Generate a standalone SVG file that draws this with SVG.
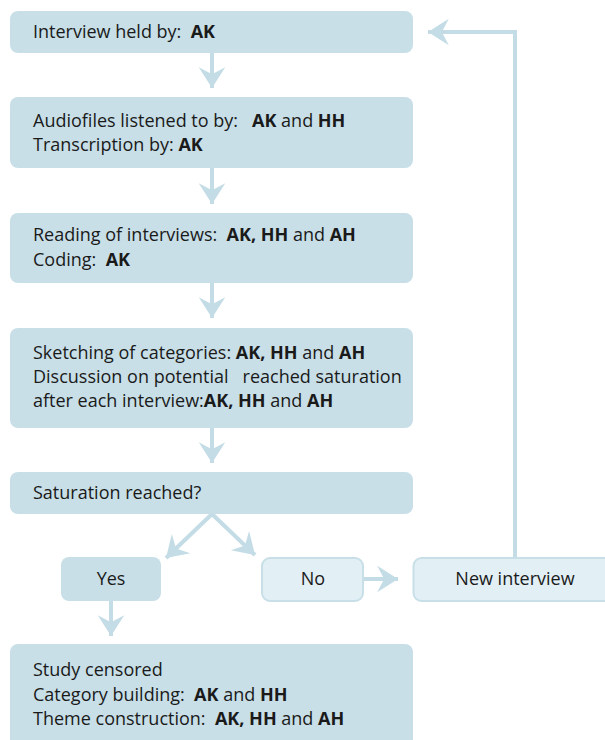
<svg xmlns="http://www.w3.org/2000/svg" width="605" height="740" viewBox="0 0 605 740">
<style>
.box{fill:#c8dfe8}
.lbox{fill:#e2eff5;stroke:#c8dfe8;stroke-width:2}
.t{font-family:"Open Sans","Noto Sans","Liberation Sans",sans-serif;font-size:18px;fill:#1a1a1a;white-space:pre}
.b{font-weight:bold}
.c{stroke:#c3dce6;stroke-width:4;fill:none}
</style>
<defs>
<marker id="ah" markerUnits="userSpaceOnUse" markerWidth="30" markerHeight="30" viewBox="-20 -13 22 26" refX="0" refY="0" orient="auto">
<path d="M0,0 L-18,-11.5 L-12,0 L-18,11.5 Z" fill="#c3dce6"/>
</marker>
</defs>
<rect width="605" height="740" fill="#ffffff"/>
<g id="connectors">
<line class="c" x1="212" y1="53" x2="212" y2="88" marker-end="url(#ah)"/>
<line class="c" x1="212" y1="168" x2="212" y2="204" marker-end="url(#ah)"/>
<line class="c" x1="212" y1="283" x2="212" y2="318" marker-end="url(#ah)"/>
<line class="c" x1="212" y1="428" x2="212" y2="463" marker-end="url(#ah)"/>
<line class="c" x1="212" y1="514" x2="166" y2="558" marker-end="url(#ah)"/>
<line class="c" x1="212" y1="514" x2="255" y2="555" marker-end="url(#ah)"/>
<line class="c" x1="363" y1="579" x2="398" y2="579" marker-end="url(#ah)"/>
<line class="c" x1="111" y1="601" x2="111" y2="636" marker-end="url(#ah)"/>
<polyline class="c" points="515,557 515,32 428,32" marker-end="url(#ah)"/>
</g>
<g id="n1">
<rect class="box" x="10" y="11" width="403" height="42" rx="8"/>
<text class="t" x="33" y="38">Interview held by:  <tspan class="b">AK</tspan></text>
</g>
<g id="n2">
<rect class="box" x="10" y="97" width="403" height="71" rx="8"/>
<text class="t" x="33" y="127">Audiofiles listened to by:   <tspan class="b">AK</tspan> and <tspan class="b">HH</tspan></text>
<text class="t" x="33" y="151">Transcription by: <tspan class="b">AK</tspan></text>
</g>
<g id="n3">
<rect class="box" x="10" y="213" width="403" height="70" rx="8"/>
<text class="t" x="33" y="241">Reading of interviews:  <tspan class="b">AK, HH</tspan> and <tspan class="b">AH</tspan></text>
<text class="t" x="33" y="266">Coding:  <tspan class="b">AK</tspan></text>
</g>
<g id="n4">
<rect class="box" x="10" y="328" width="403" height="100" rx="8"/>
<text class="t" x="33" y="359">Sketching of categories: <tspan class="b">AK, HH</tspan> and <tspan class="b">AH</tspan></text>
<text class="t" x="33" y="383">Discussion on potential   reached saturation</text>
<text class="t" x="33" y="407">after each interview:<tspan class="b">AK, HH</tspan> and <tspan class="b">AH</tspan></text>
</g>
<g id="n5">
<rect class="box" x="10" y="472" width="403" height="42" rx="8"/>
<text class="t" x="33" y="499">Saturation reached?</text>
</g>
<g id="yes">
<rect class="box" x="61" y="557" width="100" height="44" rx="8"/>
<text class="t" x="111" y="585" text-anchor="middle">Yes</text>
</g>
<g id="no">
<rect class="lbox" x="262" y="558" width="101" height="43" rx="8"/>
<text class="t" x="313" y="585" text-anchor="middle">No</text>
</g>
<g id="newint">
<rect class="lbox" x="413.5" y="558" width="210" height="43" rx="8"/>
<text class="t" x="515" y="585" text-anchor="middle">New interview</text>
</g>
<g id="n6">
<rect class="box" x="10" y="644" width="403" height="120" rx="8"/>
<text class="t" x="33" y="676">Study censored</text>
<text class="t" x="33" y="701">Category building:  <tspan class="b">AK</tspan> and <tspan class="b">HH</tspan></text>
<text class="t" x="33" y="725">Theme construction:  <tspan class="b">AK, HH</tspan> and <tspan class="b">AH</tspan></text>
</g>
</svg>
